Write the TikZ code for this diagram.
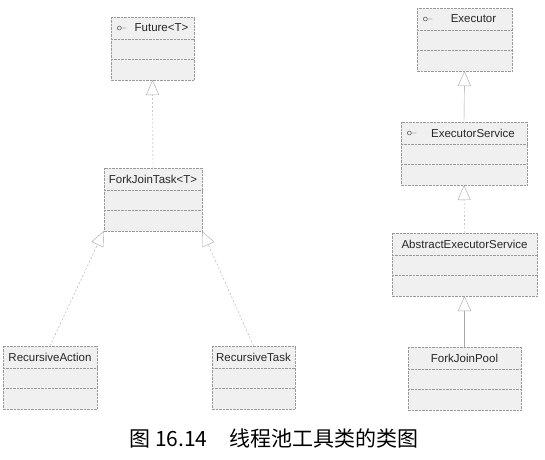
\documentclass[tikz,border=0pt]{standalone}
\usepackage{fontspec}
\setmainfont{Liberation Sans}
\newfontfamily\cjk{Noto Sans CJK SC}
\usepackage{tikz}
\usetikzlibrary{positioning,arrows.meta}

\begin{document}
\begin{tikzpicture}[x=1pt,y=-1pt]
    \useasboundingbox (0,0) rectangle (545,459);
    \tikzstyle{classhead}=[rectangle,fill=gray!12,minimum height=22pt,inner sep=0pt]
    \tikzstyle{classpart}=[rectangle,fill=gray!12,minimum height=20pt,inner sep=0pt]
    \tikzstyle{classline}=[draw=gray!80,densely dotted]
    \tikzstyle{classname}=[font=\fontsize{11.5}{13}\selectfont,text=black!85]
    \tikzstyle{inherit}=[solid,gray!70,-{Triangle[open,length=15pt,width=13pt]}]
    \tikzstyle{realize}=[inherit,dash pattern=on 2pt off 2pt]

    % classes: header row and two empty compartments
    \foreach \name/\x/\y/\w in {future/152.5/28/83, task/153/179/98,
            action/50/357/94, rtask/253.5/357/83,
            executor/464.5/19/95, service/464/133/126,
            abstract/464.5/244/145, pool/464.5/358/113} {
        \node[classhead,minimum width=\w pt] (\name) at (\x,\y) {};
        \node[classpart,minimum width=\w pt,below=0pt of \name] (\name-a) {};
        \node[classpart,minimum width=\w pt,below=0pt of \name-a] (\name-b) {};
        \draw[classline] (\name.north west) rectangle (\name-b.south east);
        \draw[classline] (\name-a.north west) -- (\name-a.north east);
        \draw[classline] (\name-b.north west) -- (\name-b.north east);
    }

    % class names
    \foreach \name/\txt in {task/{ForkJoinTask<T>}, action/{RecursiveAction}, rtask/{RecursiveTask},
            abstract/{AbstractExecutorService}, pool/{ForkJoinPool}}
        \node[classname] (\name-t) at (\name) {\txt};

    % interfaces: lollipop mark on the left
    \foreach \name/\txt in {future/{Future<T>}, executor/{Executor}, service/{ExecutorService}} {
        \node[classname,xshift=9pt] (\name-t) at (\name) {\txt};
        \coordinate (\name-i) at ([xshift=8.5pt]\name.west);
        \draw[gray!40!black,thin] (\name-i) circle (2pt) ([xshift=2pt]\name-i) -- ++(5pt,0);
    }

    % relations
    \draw[realize] (task.north) -- (future-b.south);
    \draw[realize] (action.north) -- (task-b.south west);
    \draw[realize] (rtask.north) -- (task-b.south east);
    \draw[inherit] (service.north) -- (executor-b.south);
    \draw[realize] (abstract.north) -- (service-b.south);
    \draw[inherit] (pool.north) -- (abstract-b.south);

    \node[font=\cjk\fontsize{21}{24}\selectfont] (caption) at (274,438) {图 16.14\hspace{22pt}线程池工具类的类图};
\end{tikzpicture}
\end{document}
